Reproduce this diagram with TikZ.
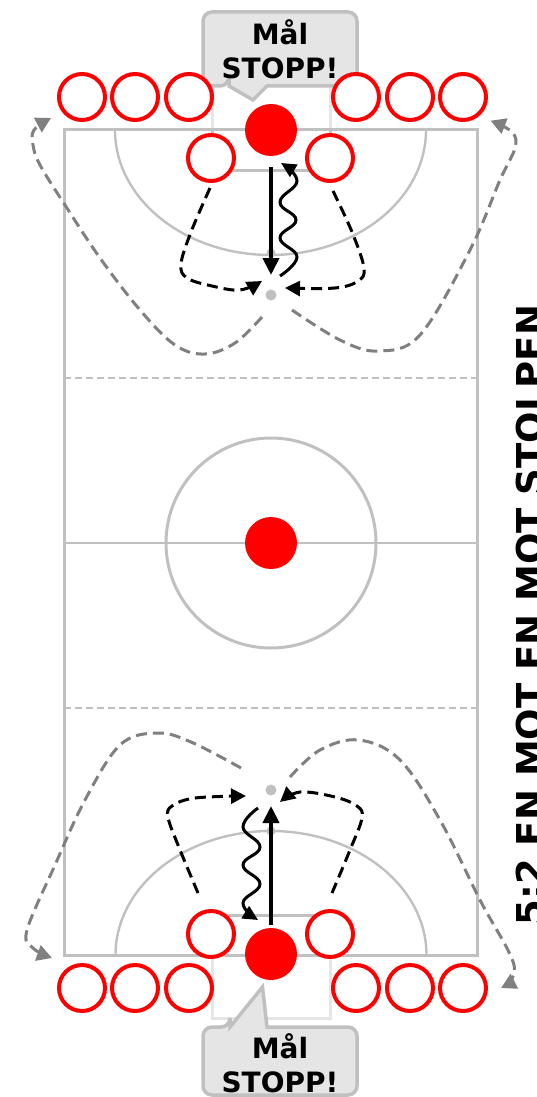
\documentclass[tikz,border=0pt]{standalone}
\usepackage{fontspec}
\setmainfont{DejaVu Sans}
\usetikzlibrary{arrows.meta}
\definecolor{courtgray}{HTML}{C0C0C0}
\definecolor{goalgray}{HTML}{E6E6E6}
\definecolor{calloutfill}{HTML}{E5E5E5}
\definecolor{runr}{HTML}{808080}
\tikzset{
  courtline/.style={draw=courtgray,line width=3pt},
  thinline/.style={draw=courtgray,line width=1.6pt},
  halfline/.style={draw=courtgray,line width=1.4pt,dash pattern=on 7pt off 4pt},
  areaarc/.style={draw=courtgray,line width=2.4pt},
  goalline/.style={draw=goalgray,line width=3pt},
  callout/.style={draw=courtgray,fill=calloutfill,line width=3.5pt,miter limit=10},
  calltext/.style={font=\fontsize{28}{34}\selectfont\bfseries,align=center,inner sep=0pt,text=black},
  player/.style={circle,draw=red,fill=white,line width=4pt,minimum size=46pt,inner sep=0pt},
  cone/.style={circle,fill=red,minimum size=52pt,inner sep=0pt},
  dot/.style={circle,fill=courtgray,minimum size=11pt,inner sep=0pt},
  bump/.style={circle,fill=courtgray,minimum size=9pt,inner sep=0pt},
  passarrow/.style={draw=black,line width=4pt,-{Triangle[length=17pt,width=16pt]}},
  dribble/.style={draw=black,line width=3pt,-{Triangle[length=15pt,width=14pt]}},
  runblack/.style={draw=black,line width=3pt,dash pattern=on 11pt off 6pt,-{Triangle[length=15pt,width=15pt]}},
  rungray/.style={draw=runr,line width=3pt,dash pattern=on 11pt off 6pt,-{Triangle[length=15pt,width=16pt]}},
}
\begin{document}
\begin{tikzpicture}[x=1pt,y=-1pt]
\useasboundingbox (0,0) rectangle (536,1097);
\clip (0,0) rectangle (536,1097);
% goals
\draw[goalline] (212,85) -- (212,130) (330,85) -- (330,130);
\draw[goalline] (212,955) -- (212,1018) -- (330,1018) -- (330,955);
% goal-area arcs
\draw[areaarc] (115,130) arc[start angle=180,end angle=360,x radius=155.5,y radius=-125];
\draw[areaarc] (115.5,955) arc[start angle=180,end angle=360,x radius=155.5,y radius=124];
\draw[courtline] (212,130) -- (212,170) -- (330,170) -- (330,130);
\draw[courtline] (212,955) -- (212,915) -- (330,915) -- (330,955);
\node[bump] (arcTop) at (271,253) {};
\node[bump] (arcBot) at (271,831) {};
% court
\draw[courtline] (64,130) rectangle (477,955);
\draw[halfline] (64,378) -- (477,378);
\draw[halfline] (64,708) -- (477,708);
\draw[thinline] (64,543) -- (477,543);
\draw[courtline] (271,543) circle[radius=105];
% dots
\node[dot] (spotTop) at (271,295) {};
\node[dot] (spotBot) at (271,790) {};
% callouts
\draw[callout] (229,86) -- (253,100) -- (267,86) [rounded corners=9pt] -- (357,86) -- (357,12) -- (203,12) -- (203,86) -- (229,86) [sharp corners] -- cycle;
\node[calltext,anchor=center] (calloutTop) at (280,49) {Mål\\STOPP!};
\draw[callout] (230,1027) -- (262.5,987) -- (267,1027) [rounded corners=9pt] -- (357,1027) -- (357,1095) -- (203,1095) -- (203,1027) -- (230,1027) [sharp corners] -- cycle;
\node[calltext,anchor=center] (calloutBot) at (280,1063) {Mål\\STOPP!};
% players
\foreach \n/\x/\y in {a/82/97,b/135/97,c/189/97,d/356/97,e/410/97,f/463/97,g/211/158,h/330/158,
  i/82/988,j/135/988,k/189/988,l/356/988,m/410/988,n/463/988,o/211/934,p/330/934}
  \node[player] (\n) at (\x,\y) {};
\node[cone] (goalTop) at (271,130) {};
\node[cone] (centre) at (271,543) {};
\node[cone] (goalBot) at (271,954) {};
% pass arrows
\coordinate (passTopS) at (271,167);
\coordinate (passTopE) at (271,275);
\coordinate (passBotS) at (271,925);
\coordinate (passBotE) at (271,806);
\draw[passarrow] (passTopS) -- (passTopE);
\draw[passarrow] (passBotS) -- (passBotE);
% dribbles
\draw[dribble] plot[smooth,tension=.75] coordinates {(280,276) (297,257) (280,238) (296,220) (280,202) (297,181) (281,163)};
\draw[dribble] plot[smooth,tension=.75] coordinates {(258,808) (243,827) (260,847) (243,865) (260,884) (243,903) (258,920)};
% black dashed runs
\draw[runblack] plot[smooth,tension=.6] coordinates {(210,188) (191,232) (181,264) (187,278) (212,286) (240,290) (262,281)};
\draw[runblack] plot[smooth,tension=.6] coordinates {(333,191) (352,232) (364,268) (358,281) (335,288) (285,288)};
\draw[runblack] plot[smooth,tension=.6] coordinates {(198,893) (178,845) (168,817) (172,806) (195,798) (246,796)};
\draw[runblack] plot[smooth,tension=.6] coordinates {(332,893) (350,850) (362,818) (357,806) (335,797) (300,792) (280,802)};
% gray dashed runs
\draw[rungray] plot[smooth,tension=.6] coordinates {(262,317) (235,343) (205,354) (175,345) (140,310) (100,258) (65,205) (40,165) (33,145) (34,130) (51,118)};
\draw[rungray] plot[smooth,tension=.6] coordinates {(292,310) (340,340) (378,351) (420,335) (470,250) (500,180) (515,148) (512,132) (490.6,120.7)};
\draw[rungray] plot[smooth,tension=.6] coordinates {(241,768) (191,742) (157,733) (120,745) (85,800) (55,865) (27,930) (33,948) (52,958)};
\draw[rungray] plot[smooth,tension=.6] coordinates {(290,777) (320,750) (359,740) (400,760) (440,820) (480,900) (514,965) (501,988)};
% title
\node[font=\fontsize{37}{37}\selectfont\bfseries,rotate=90,anchor=base,inner sep=0pt] (title) at (543,615) {5:2 EN MOT EN MOT STOLPEN};
\end{tikzpicture}
\end{document}
